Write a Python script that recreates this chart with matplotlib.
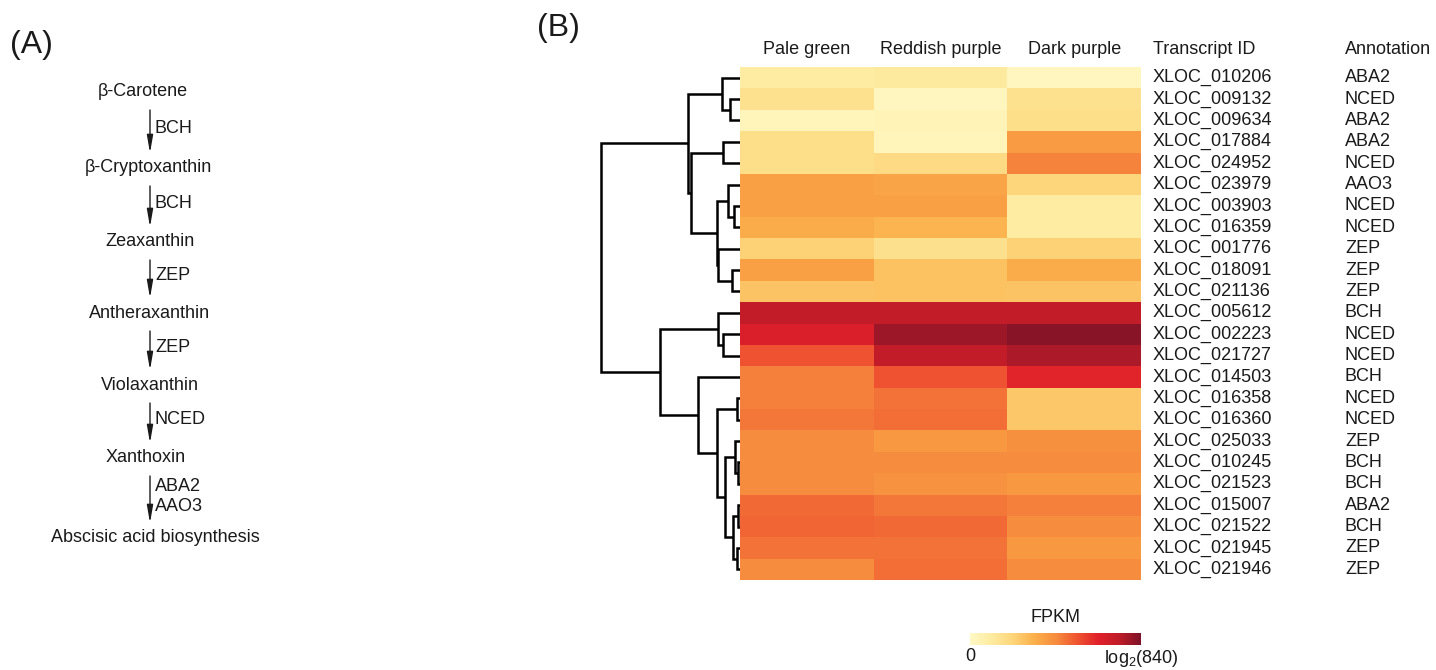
import matplotlib
matplotlib.use("Agg")
import matplotlib.pyplot as plt
import numpy as np
from matplotlib.colors import LinearSegmentedColormap

plt.rcParams["font.family"] = ["Liberation Sans", "DejaVu Sans"]
plt.rcParams["mathtext.fontset"] = "custom"
plt.rcParams["mathtext.rm"] = "Liberation Sans"
plt.rcParams["mathtext.it"] = "Liberation Sans:italic"

INK = "#1a1a1a"

# ---- panel A: pathway ----
compounds = ["β-Carotene", "β-Cryptoxanthin", "Zeaxanthin", "Antheraxanthin",
             "Violaxanthin", "Xanthoxin", "Abscisic acid biosynthesis"]
enzymes = ["BCH", "BCH", "ZEP", "ZEP", "NCED", "ABA2\nAAO3"]

# ---- panel B: heatmap (colour scale 0 .. log2(840), stored as fraction) ----
samples = ["Pale green", "Reddish purple", "Dark purple"]
transcripts = ["XLOC_010206", "XLOC_009132", "XLOC_009634", "XLOC_017884",
               "XLOC_024952", "XLOC_023979", "XLOC_003903", "XLOC_016359",
               "XLOC_001776", "XLOC_018091", "XLOC_021136", "XLOC_005612",
               "XLOC_002223", "XLOC_021727", "XLOC_014503", "XLOC_016358",
               "XLOC_016360", "XLOC_025033", "XLOC_010245", "XLOC_021523",
               "XLOC_015007", "XLOC_021522", "XLOC_021945", "XLOC_021946"]
annotation = ["ABA2", "NCED", "ABA2", "ABA2", "NCED", "AAO3", "NCED", "NCED",
              "ZEP", "ZEP", "ZEP", "BCH", "NCED", "NCED", "BCH", "NCED",
              "NCED", "ZEP", "BCH", "BCH", "ABA2", "BCH", "ZEP", "ZEP"]
pale_green = [0.12, 0.18, 0.04, 0.20, 0.20, 0.43, 0.43, 0.39, 0.26, 0.43, 0.31, 0.86,
              0.77, 0.63, 0.53, 0.53, 0.55, 0.50, 0.50, 0.50, 0.58, 0.59, 0.56, 0.50]
reddish_purple = [0.13, 0.03, 0.05, 0.04, 0.22, 0.42, 0.43, 0.36, 0.19, 0.32, 0.32, 0.86,
                  0.94, 0.86, 0.63, 0.56, 0.57, 0.46, 0.50, 0.48, 0.55, 0.58, 0.56, 0.57]
dark_purple = [0.03, 0.18, 0.20, 0.45, 0.52, 0.25, 0.12, 0.12, 0.26, 0.39, 0.31, 0.86,
               0.98, 0.91, 0.74, 0.30, 0.30, 0.49, 0.50, 0.46, 0.53, 0.50, 0.46, 0.50]

# row dendrogram: (left, right, height); leaves 0..23, new clusters from 24
linkage = [(1, 2, 10), (0, 24, 18), (3, 4, 17), (6, 7, 6), (5, 27, 12),
           (9, 10, 8), (8, 29, 21.7), (28, 30, 23.3), (26, 31, 49), (25, 32, 52),
           (12, 13, 17), (11, 34, 22), (15, 16, 3), (18, 19, 2.5), (17, 37, 5),
           (20, 21, 2), (22, 23, 3), (39, 40, 7), (38, 41, 15), (36, 42, 23),
           (14, 43, 42), (35, 44, 80), (33, 45, 139)]

cmap = LinearSegmentedColormap.from_list("fpkm", [
    (0.0, "#fff8c6"), (0.125, "#feeba0"), (0.25, "#fdd57a"), (0.375, "#fbb04b"),
    (0.5, "#f68d3e"), (0.625, "#ef5530"), (0.75, "#e0202a"), (0.875, "#be1c28"),
    (1.0, "#7e1228")])

W, H = 1436, 670
fig = plt.figure(figsize=(W / 100, H / 100), dpi=100)


def px(x0, y0, x1, y1):
    return [x0 / W, 1 - y1 / H, (x1 - x0) / W, (y1 - y0) / H]


# overlay axis in pixel coordinates for panel A and labels
ov = fig.add_axes([0, 0, 1, 1])
ov.set_xlim(0, W); ov.set_ylim(H, 0); ov.axis("off")
ov.text(10, 45, "(A)", fontsize=23, ha="left", va="center", color=INK)
ov.text(537, 28, "(B)", fontsize=23, ha="left", va="center", color=INK)

comp_y = [92, 168, 242, 313, 385, 458, 538]
comp_x = [143, 148, 150, 150, 150, 146, 155]
for name, cx, cy in zip(compounds, comp_x, comp_y):
    ov.text(cx, cy, name, fontsize=13, ha="center", va="center", color=INK)
for i, enz in enumerate(enzymes):
    y0, y1 = comp_y[i] + 18, comp_y[i + 1] - 15
    ov.annotate("", xy=(150, y1), xytext=(150, y0),
                arrowprops=dict(arrowstyle="-|>,head_length=0.75,head_width=0.13",
                                color=INK, lw=1.0, mutation_scale=14,
                                shrinkA=0, shrinkB=0))
    ov.text(155, (y0 + y1) / 2 - 3, enz, fontsize=13, ha="left", va="center",
            color=INK, linespacing=1.25)

# heatmap
n = len(transcripts)
mat = np.column_stack([pale_green, reddish_purple, dark_purple])
hx0, hx1, hy0, hy1 = 740, 1141, 67, 580
ax = fig.add_axes(px(hx0, hy0, hx1, hy1))
mesh = ax.pcolormesh(np.arange(4), np.arange(n + 1), mat, cmap=cmap,
                     vmin=0, vmax=1, shading="flat")
ax.set_xlim(0, 3); ax.set_ylim(n, 0)
ax.axis("off")

colw = (hx1 - hx0) / 3
rowh = (hy1 - hy0) / n
for j, s in enumerate(samples):
    ov.text(hx0 + colw * (j + 0.5), 50, s, fontsize=13, ha="center",
            va="center", color=INK)
ov.text(1153, 50, "Transcript ID", fontsize=13, ha="left", va="center", color=INK)
ov.text(1345, 50, "Annotation", fontsize=13, ha="left", va="center", color=INK)
for i, (t, a) in enumerate(zip(transcripts, annotation)):
    y = hy0 + rowh * (i + 0.5)
    ov.text(1153, y, t, fontsize=13, ha="left", va="center", color=INK)
    ov.text(1345, y, a, fontsize=13, ha="left", va="center", color=INK)

# dendrogram
dx = fig.add_axes(px(590, hy0, hx0, hy1))
dx.set_xlim(150, 0); dx.set_ylim(n, 0); dx.axis("off")
pos = {i: (0.0, i + 0.5) for i in range(n)}
for k, (l, r, h) in enumerate(linkage):
    hl, yl = pos[l]
    hr, yr = pos[r]
    dx.plot([hl, h, h, hr], [yl, yl, yr, yr], color="black", lw=1.8,
            solid_joinstyle="miter", solid_capstyle="butt")
    pos[n + k] = (h, (yl + yr) / 2)

# colour bar
cax = fig.add_axes(px(970, 633, 1141, 645))
cb = fig.colorbar(mesh, cax=cax, orientation="horizontal", ticks=[0, 1])
cb.outline.set_visible(False)
cb.ax.tick_params(length=0, pad=2, labelsize=13, colors=INK)
cb.ax.set_xticklabels(["0", "log$_2$(840)"])
ov.text(1055, 618, "FPKM", fontsize=13, ha="center", va="center", color=INK)

fig.savefig("out.png", dpi=100, facecolor="white")
